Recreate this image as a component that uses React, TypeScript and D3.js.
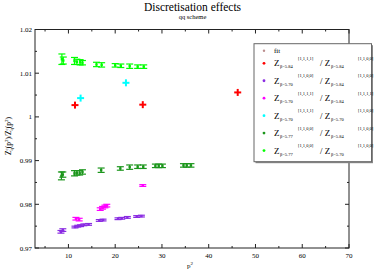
import React from "react";
import * as d3 from "d3";

// chart data
const xTicks = [10, 20, 30, 40, 50, 60, 70];
const yTicks = [0.97, 0.98, 0.99, 1, 1.01, 1.02];

const limeX = [8.6, 8.9, 11.3, 11.8, 12.5, 13.0, 16.0, 17.1, 20.0, 21.2, 23.1, 24.8, 26.1];
const limeY = [1.0132, 1.0129, 1.0128, 1.0126, 1.0125, 1.0124, 1.012, 1.0119, 1.0118, 1.0117, 1.0116, 1.0115, 1.0115];
const limeErr = [0.0012, 0.0008, 0.0008, 0.0006, 0.0006, 0.0005, 0.0005, 0.0005, 0.0004, 0.0004, 0.0005, 0.0004, 0.0004];

const greenX = [8.5, 8.8, 11.3, 11.8, 12.4, 13.0, 17.0, 21.1, 23.1, 24.8, 26.0, 28.6, 29.3, 30.1, 34.6, 35.3, 36.2];
const greenY = [0.9865, 0.9868, 0.9871, 0.9872, 0.9872, 0.9874, 0.9878, 0.9882, 0.9885, 0.9886, 0.9886, 0.9888, 0.9888, 0.9888, 0.9889, 0.9889, 0.9889];
const greenErr = [0.0009, 0.0006, 0.0006, 0.0005, 0.0005, 0.0005, 0.0005, 0.0004, 0.0005, 0.0004, 0.0004, 0.0004, 0.0004, 0.0004, 0.0004, 0.0004, 0.0004];

const purpleX = [8.4, 8.8, 11.4, 12.0, 12.6, 13.3, 14.3, 16.6, 17.4, 20.6, 21.4, 22.6, 24.6, 25.6];
const purpleY = [0.9737, 0.9741, 0.9748, 0.975, 0.9751, 0.9753, 0.9754, 0.9763, 0.9764, 0.9767, 0.9768, 0.977, 0.9772, 0.9773];
const purpleErr = [0.0003, 0.0003, 0.0002, 0.0002, 0.0002, 0.0002, 0.0002, 0.0002, 0.0002, 0.0002, 0.0002, 0.0002, 0.0002, 0.0002];

const magentaX = [11.6, 12.3, 16.8, 17.3, 17.8, 18.2, 25.9];
const magentaY = [0.9767, 0.9765, 0.9789, 0.9792, 0.9795, 0.9797, 0.9843];
const magentaErr = [0.0003, 0.0003, 0.0003, 0.0003, 0.0003, 0.0003, 0.0002];

const redX = [11.4, 25.9, 46.2];
const redY = [1.0027, 1.0028, 1.0056];

const cyanX = [12.6, 22.3];
const cyanY = [1.0043, 1.0078];

const legendRows = [
  { color: "#ff0000", b1: "β=5.84", s1: "[1,1,1,1]", b2: "β=5.84", s2: "[1,1,0,0]" },
  { color: "#8a2be2", b1: "β=5.70", s1: "[1,1,0,0]", b2: "β=5.84", s2: "[1,1,0,0]" },
  { color: "#ff00ff", b1: "β=5.70", s1: "[1,1,1,1]", b2: "β=5.84", s2: "[1,1,1,1]" },
  { color: "#00ffff", b1: "β=5.70", s1: "[1,1,1,1]", b2: "β=5.70", s2: "[1,1,0,0]" },
  { color: "#1c961c", b1: "β=5.77", s1: "[1,1,0,0]", b2: "β=5.84", s2: "[1,1,0,0]" },
  { color: "#00ff00", b1: "β=5.77", s1: "[1,1,0,0]", b2: "β=5.70", s2: "[1,1,0,0]" },
];

const FONT = "Liberation Serif, DejaVu Serif, serif";

const App = () => {
  const left = 35, right = 349, top = 29.5, bottom = 248;
  const x = d3.scaleLinear().domain([2.85, 70]).range([left, right]);
  const y = d3.scaleLinear().domain([0.97, 1.02]).range([bottom, top]);

  const xMinor = d3.range(5, 70, 10);
  const yMinor = d3.range(0.975, 1.02, 0.01);

  const errSeries = (xs: number[], ys: number[], es: number[], color: string, key: string) =>
    xs.map((xv, i) => {
      const cx = x(xv), cy = y(ys[i]);
      const y0 = y(ys[i] - es[i]), y1 = y(ys[i] + es[i]);
      return (
        <g key={key + i} stroke={color} strokeWidth={1.2}>
          <line x1={cx} x2={cx} y1={y0} y2={y1} />
          <line x1={cx - 3.5} x2={cx + 3.5} y1={y0} y2={y0} />
          <line x1={cx - 3.5} x2={cx + 3.5} y1={y1} y2={y1} />
          <rect x={cx - 1.2} y={cy - 1.2} width={2.4} height={2.4} fill={color} stroke="none" />
        </g>
      );
    });

  const plusSeries = (xs: number[], ys: number[], color: string, key: string) =>
    xs.map((xv, i) => {
      const cx = x(xv), cy = y(ys[i]);
      return (
        <g key={key + i} stroke={color} strokeWidth={2}>
          <line x1={cx - 3.5} x2={cx + 3.5} y1={cy} y2={cy} />
          <line x1={cx} x2={cx} y1={cy - 3.5} y2={cy + 3.5} />
        </g>
      );
    });

  const lx = 254, ly = 43.7, lw = 117.5, lh = 118;

  return (
    <svg width={374} height={273} style={{ position: "absolute", left: 0, top: 0, fontFamily: FONT }}>
      <rect width={374} height={273} fill="#fff" />
      <text x={192.5} y={10.5} textAnchor="middle" fontSize={11.5}>Discretisation effects</text>
      <text x={192.5} y={18.5} textAnchor="middle" fontSize={6.5}>qq scheme</text>

      {/* frame */}
      <rect x={left} y={top} width={right - left} height={bottom - top} fill="none" stroke="#222" strokeWidth={1} />

      {/* ticks */}
      {xTicks.map((t) => (
        <g key={"xt" + t}>
          <line x1={x(t)} x2={x(t)} y1={bottom} y2={bottom - 4} stroke="#222" />
          <line x1={x(t)} x2={x(t)} y1={top} y2={top + 4} stroke="#222" />
          <text x={x(t)} y={258} textAnchor="middle" fontSize={7}>{t}</text>
        </g>
      ))}
      {xMinor.map((t) => (
        <g key={"xm" + t}>
          <line x1={x(t)} x2={x(t)} y1={bottom} y2={bottom - 2} stroke="#222" />
          <line x1={x(t)} x2={x(t)} y1={top} y2={top + 2} stroke="#222" />
        </g>
      ))}
      {yTicks.map((t) => (
        <g key={"yt" + t}>
          <line x1={left} x2={left + 4} y1={y(t)} y2={y(t)} stroke="#222" />
          <line x1={right} x2={right - 4} y1={y(t)} y2={y(t)} stroke="#222" />
          <text x={32} y={y(t) + 2.5} textAnchor="end" fontSize={7}>{d3.format("")(t)}</text>
        </g>
      ))}
      {yMinor.map((t) => (
        <g key={"ym" + t}>
          <line x1={left} x2={left + 2} y1={y(t)} y2={y(t)} stroke="#222" />
          <line x1={right} x2={right - 2} y1={y(t)} y2={y(t)} stroke="#222" />
        </g>
      ))}

      <text x={190} y={268} textAnchor="middle" fontSize={7}>
        p<tspan dy={-3} fontSize={5}>2</tspan>
      </text>

      <text transform="translate(11,136) rotate(-90)" textAnchor="middle" fontSize={7.5}>
        Z<tspan dy={2} fontSize={5}>q</tspan>
        <tspan dy={-5} dx={-2.5} fontSize={5}>c</tspan>
        <tspan dy={3}>(p</tspan>
        <tspan dy={-3} fontSize={5}>2</tspan>
        <tspan dy={3}>)/Z</tspan>
        <tspan dy={2} fontSize={5}>q</tspan>
        <tspan dy={-5} dx={-2.5} fontSize={5}>c</tspan>
        <tspan dy={3}>(p</tspan>
        <tspan dy={-3} fontSize={5}>2</tspan>
        <tspan dy={3}>)</tspan>
      </text>

      {/* data */}
      {errSeries(greenX, greenY, greenErr, "#1c961c", "g")}
      {errSeries(limeX, limeY, limeErr, "#00ff00", "l")}
      {errSeries(purpleX, purpleY, purpleErr, "#8a2be2", "p")}
      {errSeries(magentaX, magentaY, magentaErr, "#ff00ff", "m")}
      {plusSeries(redX, redY, "#ff0000", "r")}
      {plusSeries(cyanX, cyanY, "#00ffff", "c")}

      {/* legend */}
      <rect x={lx + 1.5} y={ly + 1.5} width={lw} height={lh} fill="#888" />
      <rect x={lx} y={ly} width={lw} height={lh} fill="#fff" stroke="#666" strokeWidth={1} />
      <circle cx={264} cy={50.7} r={1.2} fill="#bc8f8f" />
      <text x={274} y={53.2} fontSize={7}>fit</text>
      {legendRows.map((r, i) => {
        const cy = 63.3 + i * 17.45;
        return (
          <g key={"lg" + i}>
            <circle cx={264} cy={cy} r={1.4} fill={r.color} />
            <text x={274} y={cy + 3} fontSize={9}>Z</text>
            <text x={280} y={cy + 5} fontSize={4.5}>{r.b1}</text>
            <text x={298} y={cy - 3.5} fontSize={4.5}>{r.s1}</text>
            <text x={320} y={cy + 3} fontSize={9}>/ Z</text>
            <text x={331} y={cy + 5} fontSize={4.5}>{r.b2}</text>
            <text x={358} y={cy - 3.5} fontSize={4.5}>{r.s2}</text>
          </g>
        );
      })}
    </svg>
  );
};

export default App;
